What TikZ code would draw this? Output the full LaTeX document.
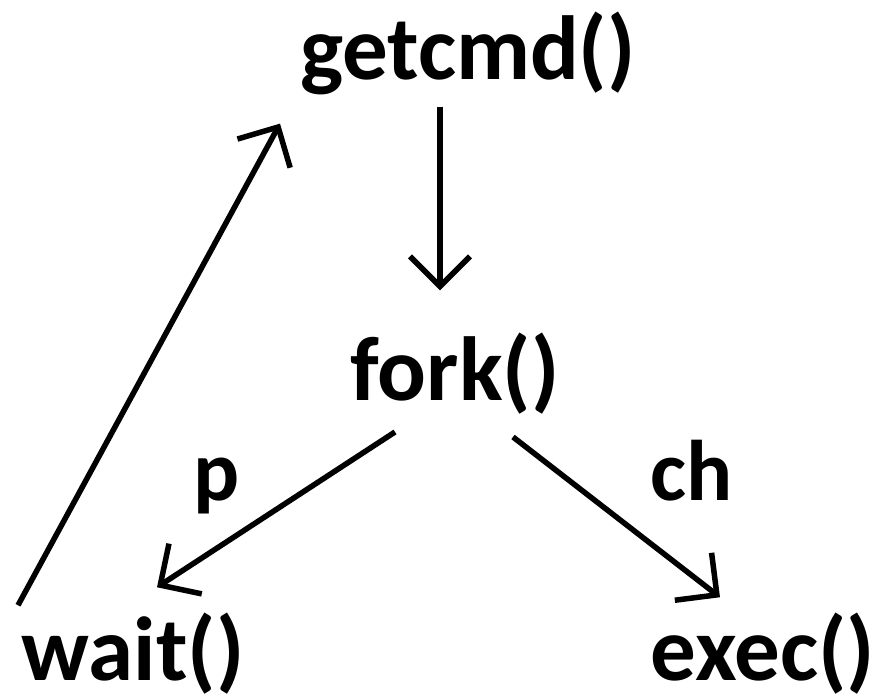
\documentclass[tikz,border=0pt]{standalone}
\usepackage{fontspec}
\usepackage{tikz}
\usetikzlibrary{arrows.meta}
\setmainfont{Carlito}[BoldFont={* Bold}]

\begin{document}
\begin{tikzpicture}[x=1pt,y=-1pt,
    call/.style={anchor=base,inner sep=0pt,font=\fontsize{91}{100}\selectfont\bfseries},
    tag/.style={anchor=base,inner sep=0pt,font=\fontsize{86}{96}\selectfont\bfseries},
    arr/.style={line width=5.5pt,-{Straight Barb[length=30pt,width=60pt,line width=5.5pt]}}]
        % frame of the picture
        \useasboundingbox (0,0) rectangle (879,698);
        % the calls
        \node[call] (getcmd) at (468,80) {getcmd()};
        \node[call] (fork) at (455,400) {fork()};
        \node[call] (wait) at (133,680) {wait()};
        \node[call] (exec) at (763,680) {exec()};
        % the two branches
        \node[tag] (p) at (217,500) {p};
        \node[tag] (ch) at (692,500) {ch};
        % the loop
        \draw[arr] ([xshift=-28pt,yshift=-11pt]getcmd.south) -- ([xshift=-15pt,yshift=42pt]fork.north);
        \draw[arr] ([xshift=-60pt,yshift=-18pt]fork.south) -- ([xshift=24pt,yshift=25pt]wait.north);
        \draw[arr] ([xshift=58pt,yshift=-23pt]fork.south) -- ([xshift=-43pt,yshift=15pt]exec.north);
        \draw[arr] ([xshift=-115pt,yshift=7pt]wait.north) -- ([xshift=-188pt,yshift=-28pt]getcmd.south);
\end{tikzpicture}
\end{document}
